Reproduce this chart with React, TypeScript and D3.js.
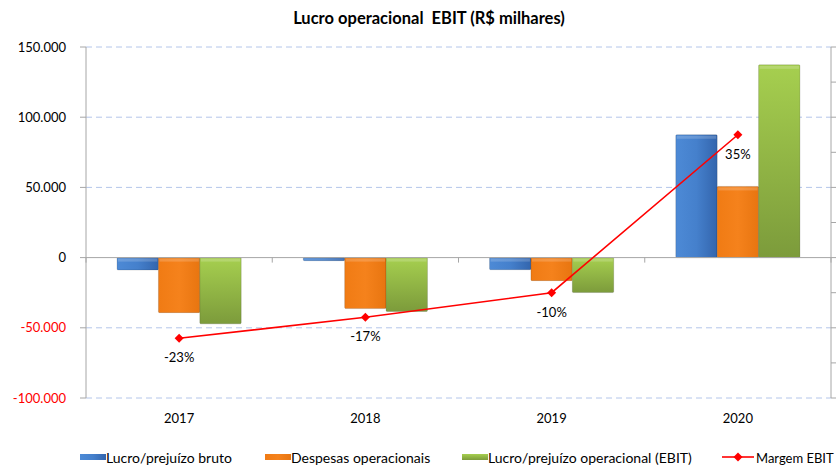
import React, { useEffect } from 'react';
import * as d3 from 'd3';

// Chart data
const years = ['2017', '2018', '2019', '2020'];
const lucroBruto = [-8800, -2200, -8600, 87500];
const despesas = [-39200, -36300, -16400, 50700];
const ebit = [-47200, -38400, -24900, 137300];
const margem = [-23, -17, -10, 35];
const leftTicks = [-100000, -50000, 0, 50000, 100000, 150000];

const seriesNames = ['Lucro/prejuízo bruto', 'Despesas operacionais', 'Lucro/prejuízo operacional (EBIT)'];
const seriesValues = [lucroBruto, despesas, ebit];

const W = 838;
const H = 466;
const margin = { top: 47, right: 7, bottom: 68, left: 86 };
const FONT = 'Lato, "Open Sans", sans-serif';

const fmt = (v: number) => {
    const s = d3.format(',')(v).replace(/,/g, '.');
    return s.replace('−', '-');
};

const App: React.FC = () => {
    useEffect(() => {
        document.body.style.margin = '0';
    }, []);

    const plotW = W - margin.left - margin.right;
    const plotH = H - margin.top - margin.bottom;

    const x = d3.scaleBand<string>()
        .domain(years)
        .range([margin.left, margin.left + plotW]);

    // bars occupy the centre of each band, gap = 1.5 bar widths
    const barW = x.bandwidth() / 4.5;
    const x1 = d3.scaleBand<number>()
        .domain([0, 1, 2])
        .range([0, barW * 3]);

    const y = d3.scaleLinear()
        .domain([-100000, 150000])
        .range([margin.top + plotH, margin.top]);

    const y2 = d3.scaleLinear()
        .domain([-40, 60])
        .range([margin.top + plotH, margin.top]);

    const rightTicks = d3.range(-40, 61, 10);

    const line = d3.line<number>()
        .x((_, i) => (x(years[i]) || 0) + x.bandwidth() / 2)
        .y(d => y2(d));

    const gradIds = ['gBlue', 'gOrange', 'gGreen'];
    const x0 = margin.left;
    const xEnd = margin.left + plotW;

    return (
        <svg width={W} height={H} style={{ display: 'block', background: '#fff' }} fontFamily={FONT}>
            <defs>
                <linearGradient id="gBlue" x1="0" y1="0" x2="1" y2="0">
                    <stop offset="0" stopColor="#4d8ad6" />
                    <stop offset="0.5" stopColor="#4580cc" />
                    <stop offset="1" stopColor="#3365ad" />
                </linearGradient>
                <linearGradient id="gOrange" x1="0" y1="0" x2="1" y2="0">
                    <stop offset="0" stopColor="#f07b14" />
                    <stop offset="0.5" stopColor="#f5821c" />
                    <stop offset="1" stopColor="#e87510" />
                </linearGradient>
                <linearGradient id="gGreen" x1="0" y1="0" x2="0" y2="1">
                    <stop offset="0" stopColor="#a6cf4f" />
                    <stop offset="1" stopColor="#7c9b3b" />
                </linearGradient>
            </defs>

            {/* title */}
            <text x={429} y={24} textAnchor="middle" fontSize={16.5} fontWeight="bold" fill="#000"
                style={{ whiteSpace: 'pre' }}>
                {'Lucro operacional  EBIT (R$ milhares)'}
            </text>

            {/* gridlines */}
            {leftTicks.filter(t => t !== 0).map(t => (
                <line key={t} x1={x0} x2={xEnd} y1={y(t)} y2={y(t)}
                    stroke="#b4c6ea" strokeDasharray="6,4" strokeWidth={1} />
            ))}

            {/* bars */}
            {years.map((yr, i) => {
                const gx = (x(yr) || 0) + (x.bandwidth() - barW * 3) / 2;
                return (
                    <g key={yr}>
                        {seriesValues.map((vals, s) => {
                            const v = vals[i];
                            const top = y(Math.max(0, v));
                            const h = Math.abs(y(v) - y(0));
                            return (
                                <g key={s}>
                                    <rect x={gx + (x1(s) || 0)} y={top} width={x1.bandwidth()} height={h}
                                        fill={`url(#${gradIds[s]})`}
                                        stroke="rgba(0,0,0,0.18)" strokeWidth={0.8} rx={1} />
                                    <rect x={gx + (x1(s) || 0) + 1} y={top + 1} width={x1.bandwidth() - 2}
                                        height={Math.min(3, Math.max(0, h - 2))}
                                        fill="#fff" opacity={0.18} />
                                </g>
                            );
                        })}
                    </g>
                );
            })}

            {/* axes */}
            <line x1={x0} x2={x0} y1={margin.top} y2={margin.top + plotH} stroke="#a6a6a6" />
            <line x1={xEnd} x2={xEnd} y1={margin.top} y2={margin.top + plotH} stroke="#a6a6a6" />
            <line x1={x0} x2={xEnd} y1={y(0)} y2={y(0)} stroke="#a6a6a6" />
            {leftTicks.map(t => (
                <g key={t}>
                    <line x1={x0 - 6} x2={x0} y1={y(t)} y2={y(t)} stroke="#a6a6a6" />
                    <text x={x0 - 20} y={y(t)} dy="0.35em" textAnchor="end" fontSize={13}
                        fill={t < 0 ? '#ff0000' : '#000'}>{fmt(t)}</text>
                </g>
            ))}
            {rightTicks.map(t => (
                <line key={t} x1={xEnd} x2={xEnd + 5} y1={y2(t)} y2={y2(t)} stroke="#a6a6a6" />
            ))}
            {d3.range(0, years.length + 1).map(i => {
                const bx = margin.left + i * x.step();
                return <line key={i} x1={bx} x2={bx} y1={y(0)} y2={y(0) + 5} stroke="#a6a6a6" />;
            })}
            {years.map(yr => (
                <text key={yr} x={(x(yr) || 0) + x.bandwidth() / 2} y={423} textAnchor="middle" fontSize={13} fill="#000">{yr}</text>
            ))}

            {/* margin line */}
            <path d={line(margem) || ''} fill="none" stroke="#ff0000" strokeWidth={1.6} />
            {margem.map((m, i) => {
                const cx = (x(years[i]) || 0) + x.bandwidth() / 2;
                const cy = y2(m);
                return (
                    <g key={i}>
                        <path d={`M${cx},${cy - 4.5}L${cx + 4.5},${cy}L${cx},${cy + 4.5}L${cx - 4.5},${cy}Z`} fill="#ff0000" />
                        <text x={cx} y={cy + 24} textAnchor="middle" fontSize={13} fill="#000">{m}%</text>
                    </g>
                );
            })}

            {/* legend */}
            {[
                { sx: 80, tx: 106 },
                { sx: 265, tx: 291 },
                { sx: 462, tx: 488 },
            ].map((p, s) => (
                <g key={s}>
                    <rect x={p.sx} y={454} width={26} height={6} fill={`url(#${gradIds[s]})`} />
                    <text x={p.tx} y={463} fontSize={14} fill="#000">{seriesNames[s]}</text>
                </g>
            ))}
            <line x1={722} x2={754} y1={457} y2={457} stroke="#ff0000" strokeWidth={1.6} />
            <path d="M738,452.5L742.5,457L738,461.5L733.5,457Z" fill="#ff0000" />
            <text x={756} y={463} fontSize={13} fill="#000">Margem EBIT</text>
        </svg>
    );
};

export default App;
